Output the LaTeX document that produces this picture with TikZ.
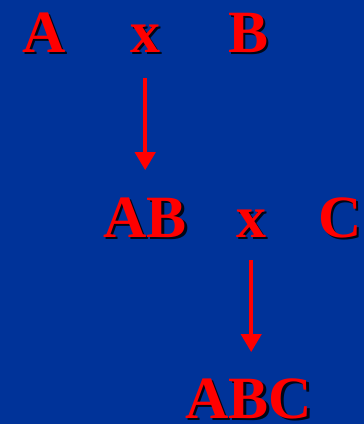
\documentclass[tikz,border=0pt]{standalone}
\usepackage{fontspec}
\setmainfont{Liberation Serif}
\usetikzlibrary{arrows.meta}
\definecolor{slideblue}{RGB}{0,51,153}
\definecolor{gene}{RGB}{255,0,0}
\tikzset{
  lbl/.style={inner sep=0pt,anchor=base west,text=gene,font=\fontsize{60}{60}\selectfont\bfseries},
  shade/.style={lbl,text=black,opacity=0.85,xshift=2.5pt,yshift=-2.5pt},
  cross/.style={-{Triangle[width=20pt,length=18pt]},line width=4pt,draw=gene}
}
% letter with its drop shadow
\newcommand\letter[3]{%
  \node[shade] at (#2) {#3};
  \node[lbl] (#1) at (#2) {#3};}
\begin{document}
\begin{tikzpicture}[x=1pt,y=-1pt]
  \fill[slideblue] (0,0) rectangle (364,424);
  \useasboundingbox (0,0) rectangle (364,424);
  % first cross
  \letter{a}{22,52}{A}
  \letter{x1}{130,52}{x}
  \letter{b}{228,52}{B}
  % second cross
  \letter{ab}{103,237}{AB}
  \letter{x2}{236,237}{x}
  \letter{c}{318,237}{C}
  \letter{abc}{185,418}{ABC}
  \draw[cross,shorten <=26pt,shorten >=27pt] (x1.south) -- (x1.south |- ab.north);
  \draw[cross,shorten <=23pt,shorten >=26pt] (x2.south) -- (x2.south |- abc.north);
\end{tikzpicture}
\end{document}
